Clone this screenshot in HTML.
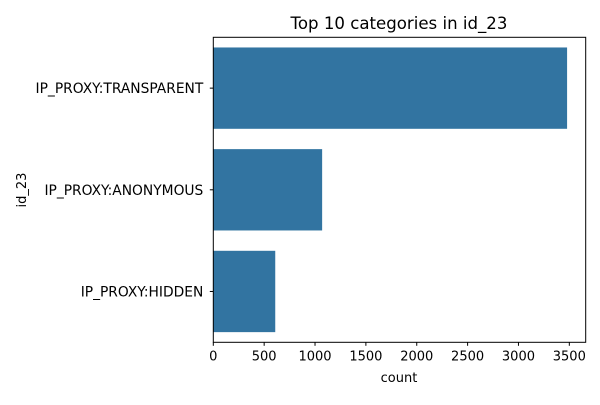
<!DOCTYPE html>
<html><head><meta charset="utf-8"><style>
body{margin:0;background:#fff;font-family:"Liberation Sans","DejaVu Sans",sans-serif;}
svg text{font-family:"DejaVu Sans","Liberation Sans",sans-serif;fill:#000;}
</style></head><body>
<svg id="chart" width="600" height="400">
<text x="399" y="29" text-anchor="middle" font-size="16.6">Top 10 categories in id_23</text>
<text x="399" y="382" text-anchor="middle" font-size="13">count</text>
<text transform="translate(26,190) rotate(-90)" text-anchor="middle" font-size="13">id_23</text>
<g id="bars"></g><g id="xt"></g><g id="yt"></g>
<rect x="213.3" y="37.3" width="372.4" height="305" fill="none" stroke="#000" stroke-width="1"/>
</svg>
<script>
const categories=["IP_PROXY:TRANSPARENT","IP_PROXY:ANONYMOUS","IP_PROXY:HIDDEN"];
const counts=[3478,1070,609];
const xTicks=[0,500,1000,1500,2000,2500,3000,3500];
const L=213.3,R=585.7,T=37.3,B=342.3,XMAX=3661;
const ns="http://www.w3.org/2000/svg";
function sx(v){return L+v/XMAX*(R-L);}
function sy(i){return T+(i+0.5)/categories.length*(B-T);}
const band=(B-T)/categories.length;
function mk(t,a){const e=document.createElementNS(ns,t);for(const k in a)e.setAttribute(k,a[k]);return e;}
const bars=document.getElementById('bars'),xt=document.getElementById('xt'),yt=document.getElementById('yt');
categories.forEach((c,i)=>{
 const r=mk('rect',{x:L,y:sy(i)-band*0.4,width:sx(counts[i])-L,height:band*0.8,fill:'#3274a1'});
 
 
 bars.appendChild(r);
 const tk=mk('line',{x1:L-3.5,x2:L,y1:sy(i),y2:sy(i),stroke:'#000'});
 
 
 yt.appendChild(tk);
 const t=mk('text',{x:L-10,y:sy(i)+5,'text-anchor':'end','font-size':'13.8'});
 t.textContent=c;
 
 
 yt.appendChild(t);
});
xTicks.forEach(v=>{
 const tk=mk('line',{x1:sx(v),x2:sx(v),y1:B,y2:B+3.5,stroke:'#000'});
 
 
 xt.appendChild(tk);
 const t=mk('text',{x:sx(v),y:B+18,'text-anchor':'middle','font-size':'13'});
 t.textContent=v;
 
 
 xt.appendChild(t);
});
</script>
</body></html>
